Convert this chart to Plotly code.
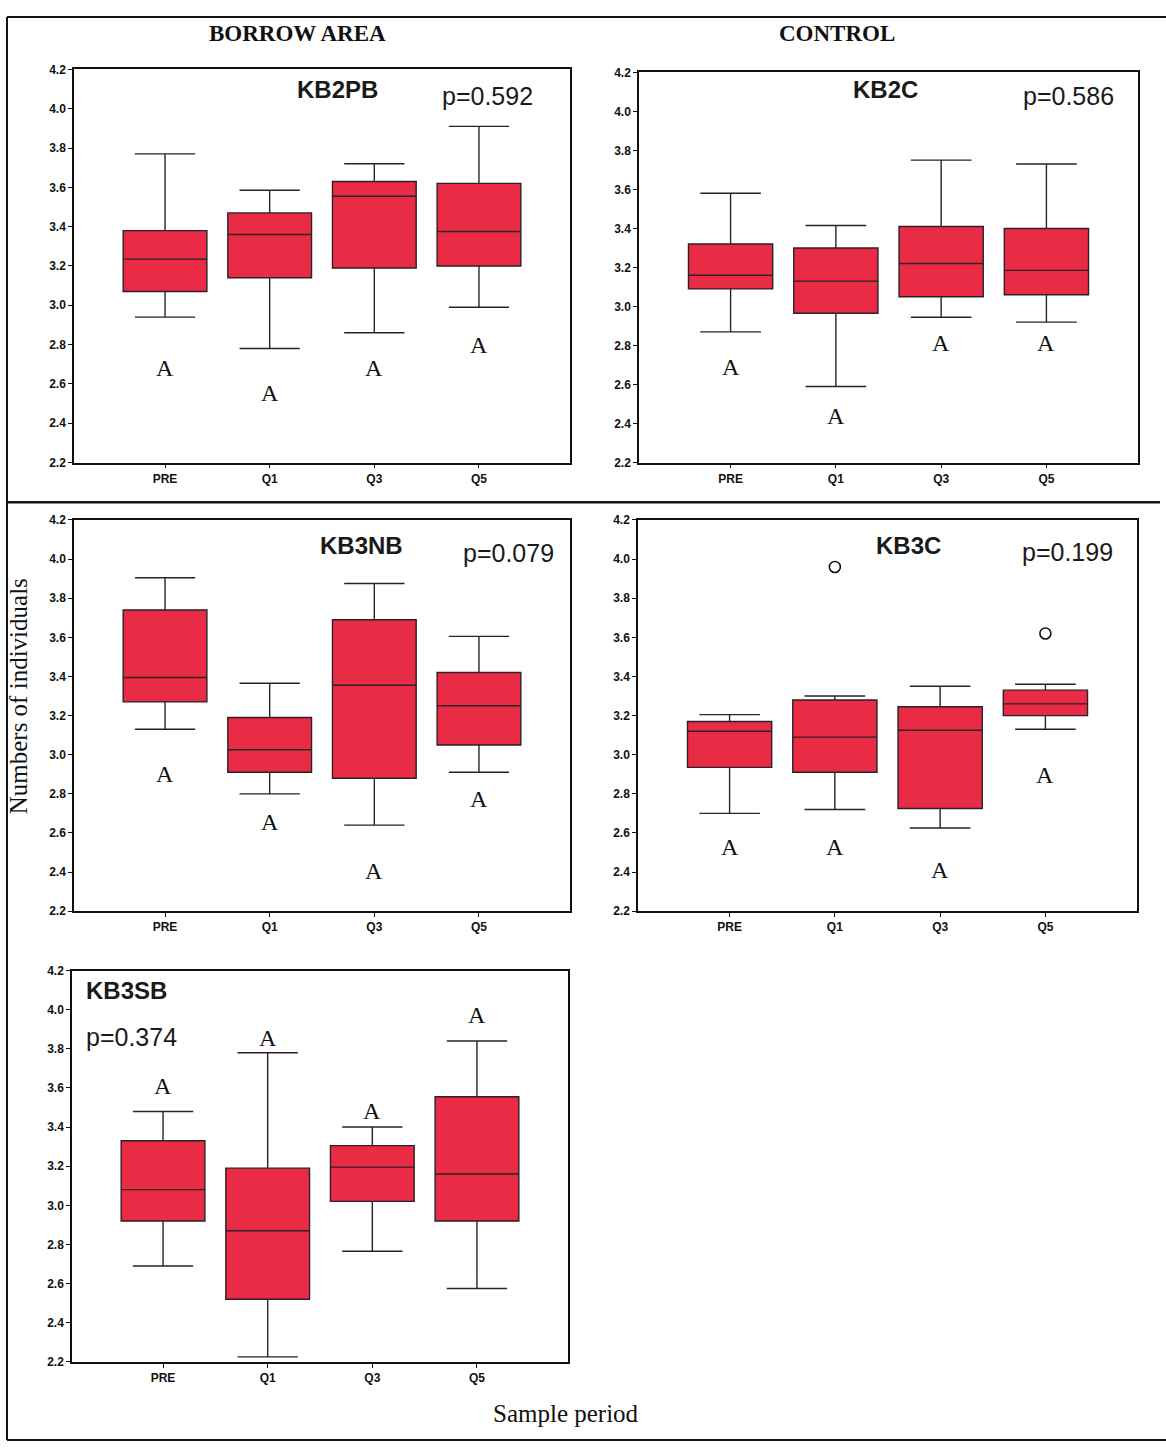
import plotly.graph_objects as go

# ---------------------------------------------------------------------------
# Data: five-number summaries (lower whisker, Q1, median, Q3, upper whisker)
# for each site and sample period, plus significance letters and p-values.
# ---------------------------------------------------------------------------
periods = ["PRE", "Q1", "Q3", "Q5"]

kb2pb_low = [2.94, 2.78, 2.86, 2.99]
kb2pb_q1 = [3.07, 3.14, 3.19, 3.20]
kb2pb_med = [3.235, 3.36, 3.555, 3.375]
kb2pb_q3 = [3.38, 3.47, 3.63, 3.62]
kb2pb_high = [3.77, 3.585, 3.72, 3.91]
kb2pb_letter_y = [2.68, 2.555, 2.68, 2.80]

kb2c_low = [2.87, 2.59, 2.945, 2.92]
kb2c_q1 = [3.09, 2.965, 3.05, 3.06]
kb2c_med = [3.16, 3.13, 3.22, 3.185]
kb2c_q3 = [3.32, 3.30, 3.41, 3.40]
kb2c_high = [3.58, 3.415, 3.75, 3.73]
kb2c_letter_y = [2.69, 2.44, 2.815, 2.815]

kb3nb_low = [3.13, 2.80, 2.64, 2.91]
kb3nb_q1 = [3.27, 2.91, 2.88, 3.05]
kb3nb_med = [3.395, 3.025, 3.355, 3.25]
kb3nb_q3 = [3.74, 3.19, 3.69, 3.42]
kb3nb_high = [3.905, 3.365, 3.875, 3.605]
kb3nb_letter_y = [2.90, 2.655, 2.405, 2.775]

kb3c_low = [2.70, 2.72, 2.625, 3.13]
kb3c_q1 = [2.935, 2.91, 2.725, 3.20]
kb3c_med = [3.12, 3.09, 3.125, 3.26]
kb3c_q3 = [3.17, 3.28, 3.245, 3.33]
kb3c_high = [3.205, 3.30, 3.35, 3.36]
kb3c_letter_y = [2.53, 2.53, 2.41, 2.895]
kb3c_outlier_x = ["Q1", "Q5"]
kb3c_outlier_y = [3.96, 3.62]

kb3sb_low = [2.69, 2.225, 2.765, 2.575]
kb3sb_q1 = [2.92, 2.52, 3.02, 2.92]
kb3sb_med = [3.08, 2.87, 3.195, 3.16]
kb3sb_q3 = [3.33, 3.19, 3.305, 3.555]
kb3sb_high = [3.48, 3.78, 3.40, 3.84]
kb3sb_letter_y = [3.61, 3.855, 3.48, 3.975]

letters = ["A", "A", "A", "A"]
y_ticks = [2.2, 2.4, 2.6, 2.8, 3.0, 3.2, 3.4, 3.6, 3.8, 4.0, 4.2]

# ---------------------------------------------------------------------------
# Page geometry (pixels)
# ---------------------------------------------------------------------------
W, H = 1166, 1449
SERIF = "Liberation Serif"
SANS = "Liberation Sans"
BOX_FILL = "#EA2B45"
BOX_LINE = "#2a2226"


def px(x):
    return x / W


def py(y):
    return 1 - y / H


# name, summaries, letters y, p text, panel rect (left, right, top, bottom),
# site label position, p-value position (domain fractions)
panels = [
    dict(name="KB2PB", low=kb2pb_low, q1=kb2pb_q1, med=kb2pb_med, q3=kb2pb_q3,
         high=kb2pb_high, ly=kb2pb_letter_y, p="p=0.592",
         rect=(74, 570, 63, 460), title=(0.532, 0.95, "center"),
         ptxt=(0.833, 0.932, "center")),
    dict(name="KB2C", low=kb2c_low, q1=kb2c_q1, med=kb2c_med, q3=kb2c_q3,
         high=kb2c_high, ly=kb2c_letter_y, p="p=0.586",
         rect=(639, 1138, 66, 460), title=(0.493, 0.957, "center"),
         ptxt=(0.86, 0.939, "center")),
    dict(name="KB3NB", low=kb3nb_low, q1=kb3nb_q1, med=kb3nb_med, q3=kb3nb_q3,
         high=kb3nb_high, ly=kb3nb_letter_y, p="p=0.079",
         rect=(74, 570, 518, 913), title=(0.579, 0.934, "center"),
         ptxt=(0.877, 0.915, "center")),
    dict(name="KB3C", low=kb3c_low, q1=kb3c_q1, med=kb3c_med, q3=kb3c_q3,
         high=kb3c_high, ly=kb3c_letter_y, p="p=0.199",
         rect=(638, 1137, 518, 913), title=(0.543, 0.934, "center"),
         ptxt=(0.86, 0.917, "center")),
    dict(name="KB3SB", low=kb3sb_low, q1=kb3sb_q1, med=kb3sb_med, q3=kb3sb_q3,
         high=kb3sb_high, ly=kb3sb_letter_y, p="p=0.374",
         rect=(72, 568, 973, 1368), title=(0.024, 0.949, "left"),
         ptxt=(0.024, 0.83, "left")),
]

fig = go.Figure()
annotations = []
layout_axes = {}

for i, pnl in enumerate(panels, start=1):
    sfx = "" if i == 1 else str(i)
    xa, ya = "x" + sfx, "y" + sfx
    left, right, top, bottom = pnl["rect"]

    fig.add_trace(go.Box(
        x=periods,
        q1=pnl["q1"], median=pnl["med"], q3=pnl["q3"],
        lowerfence=pnl["low"], upperfence=pnl["high"],
        fillcolor=BOX_FILL,
        line=dict(color=BOX_LINE, width=1.4),
        width=0.8, whiskerwidth=0.72,
        boxpoints=False, showlegend=False, hoverinfo="skip",
        xaxis=xa, yaxis=ya,
    ))

    if pnl["name"] == "KB3C":
        fig.add_trace(go.Scatter(
            x=kb3c_outlier_x, y=kb3c_outlier_y, mode="markers",
            marker=dict(symbol="circle-open", size=11, color="#111",
                        line=dict(width=1.6)),
            showlegend=False, hoverinfo="skip", xaxis=xa, yaxis=ya,
        ))

    layout_axes["xaxis" + sfx] = dict(
        domain=[px(left), px(right)], anchor=ya,
        type="category", categoryorder="array", categoryarray=periods,
        range=[-0.87, 3.87],
        showline=True, mirror=True, linecolor="#111", linewidth=1.5,
        ticks="outside", ticklen=4, tickcolor="#111",
        tickfont=dict(family=SANS, size=12, color="#111", weight="bold"),
        showgrid=False, zeroline=False, fixedrange=True,
    )
    layout_axes["yaxis" + sfx] = dict(
        domain=[py(bottom), py(top)], anchor=xa,
        range=[2.2, 4.2], tickvals=y_ticks, tickformat=".1f",
        showline=True, mirror=True, linecolor="#111", linewidth=1.5,
        ticks="outside", ticklen=4, tickcolor="#111",
        tickfont=dict(family=SANS, size=12, color="#111", weight="bold"),
        showgrid=False, zeroline=False, fixedrange=True,
    )

    # site name and Kruskal-Wallis p-value
    tx, ty, tanchor = pnl["title"]
    annotations.append(dict(
        xref=xa + " domain", yref=ya + " domain", x=tx, y=ty,
        xanchor=tanchor, yanchor="middle", showarrow=False, text=pnl["name"],
        font=dict(family=SANS, size=24, color="#1a1a1a", weight="bold"),
    ))
    qx, qy, qanchor = pnl["ptxt"]
    annotations.append(dict(
        xref=xa + " domain", yref=ya + " domain", x=qx, y=qy,
        xanchor=qanchor, yanchor="middle", showarrow=False, text=pnl["p"],
        font=dict(family=SANS, size=25, color="#1a1a1a"),
    ))

    # homogeneous-group letters
    for cat, yv, lt in zip(periods, pnl["ly"], letters):
        annotations.append(dict(
            xref=xa, yref=ya, x=cat, y=yv, showarrow=False, text=lt,
            xanchor="center", yanchor="middle",
            font=dict(family=SERIF, size=24, color="#111"),
        ))

# column headers and shared axis titles
annotations += [
    dict(xref="paper", yref="paper", x=px(297), y=py(27), showarrow=False,
         text="BORROW AREA", xanchor="center", yanchor="middle",
         font=dict(family=SERIF, size=23, color="#111", weight="bold")),
    dict(xref="paper", yref="paper", x=px(837), y=py(27), showarrow=False,
         text="CONTROL", xanchor="center", yanchor="middle",
         font=dict(family=SERIF, size=23, color="#111", weight="bold")),
    dict(xref="paper", yref="paper", x=px(18), y=py(696), showarrow=False,
         text="Numbers of individuals", textangle=-90,
         xanchor="center", yanchor="middle",
         font=dict(family=SERIF, size=25, color="#111")),
    dict(xref="paper", yref="paper", x=px(566), y=py(1420), showarrow=False,
         text="Sample period", xanchor="center", yanchor="middle",
         font=dict(family=SERIF, size=25, color="#111")),
]

# page frame and the rule between the two panel rows
frame = dict(color="#151515", width=2)
shapes = [
    dict(type="line", xref="paper", yref="paper",
         x0=px(7), x1=px(7), y0=py(10), y1=py(1447), line=frame),
    dict(type="line", xref="paper", yref="paper",
         x0=px(7), x1=1, y0=py(10), y1=py(10), line=frame),
    dict(type="line", xref="paper", yref="paper",
         x0=px(7), x1=1, y0=py(1447), y1=py(1447), line=frame),
    dict(type="line", xref="paper", yref="paper",
         x0=px(7), x1=px(1160), y0=py(500), y1=py(500),
         line=dict(color="#151515", width=2.5)),
]

fig.update_layout(
    width=W, height=H,
    margin=dict(l=0, r=0, t=0, b=0),
    paper_bgcolor="white", plot_bgcolor="white",
    showlegend=False,
    annotations=annotations,
    shapes=shapes,
    **layout_axes,
)

fig.write_html("out.html")
